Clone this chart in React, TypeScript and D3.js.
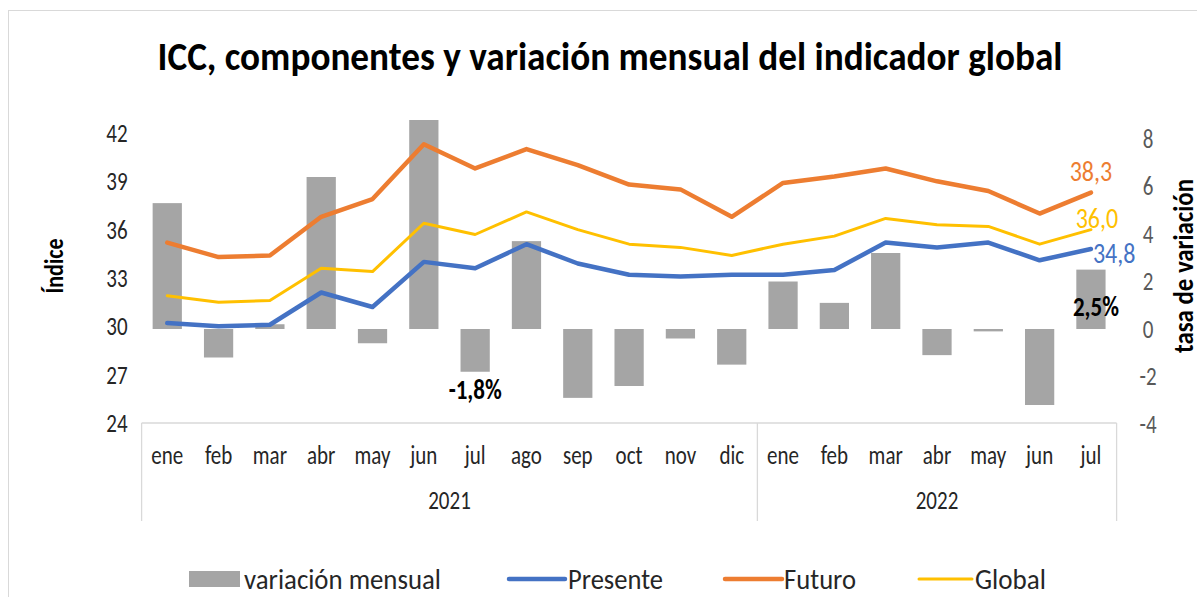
import React, { useEffect, useRef } from "react";
import * as d3 from "d3";

const months = ["ene", "feb", "mar", "abr", "may", "jun", "jul", "ago", "sep", "oct", "nov", "dic", "ene", "feb", "mar", "abr", "may", "jun", "jul"];
const years = [
  { label: "2021", from: 0, to: 11 },
  { label: "2022", from: 12, to: 18 },
];
const variacion = [5.3, -1.2, 0.2, 6.4, -0.6, 8.8, -1.8, 3.7, -2.9, -2.4, -0.4, -1.5, 2.0, 1.1, 3.2, -1.1, -0.1, -3.2, 2.5];
const presente = [30.2, 30.0, 30.1, 32.1, 31.2, 34.0, 33.6, 35.1, 33.9, 33.2, 33.1, 33.2, 33.2, 33.5, 35.2, 34.9, 35.2, 34.1, 34.8];
const futuro = [35.2, 34.3, 34.4, 36.8, 37.9, 41.3, 39.8, 41.0, 40.0, 38.8, 38.5, 36.8, 38.9, 39.3, 39.8, 39.0, 38.4, 37.0, 38.3];
const global = [31.9, 31.5, 31.6, 33.6, 33.4, 36.4, 35.7, 37.1, 36.0, 35.1, 34.9, 34.4, 35.1, 35.6, 36.7, 36.3, 36.2, 35.1, 36.0];
const leftTicks = [24, 27, 30, 33, 36, 39, 42];
const rightTicks = [-4, -2, 0, 2, 4, 6, 8];

const FONT = "Carlito, Calibri, 'Liberation Sans Narrow', 'Open Sans', sans-serif";
const SY = 1.22; // reference text looks vertically stretched

type Sel = d3.Selection<any, unknown, null, undefined>;

function label(g: Sel, x: number, y: number, str: string, size: number, fill: string, opts: { anchor?: string; bold?: boolean; rotate?: number; len?: number } = {}) {
  const t = g.append("text")
    .attr("transform", `translate(${x},${y})${opts.rotate ? ` rotate(${opts.rotate})` : ""} scale(1,${SY})`)
    .attr("dy", "0.35em")
    .attr("text-anchor", opts.anchor || "middle")
    .attr("font-family", FONT)
    .attr("font-size", size)
    .attr("font-weight", opts.bold ? "bold" : "normal")
    .attr("fill", fill)
    .text(str);
  if (opts.len) t.attr("textLength", opts.len).attr("lengthAdjust", "spacingAndGlyphs");
  return t;
}

export default function App() {
  const ref = useRef<SVGSVGElement>(null);

  useEffect(() => {
    const svg = d3.select(ref.current) as unknown as Sel;
    svg.selectAll("*").remove();

    const W = 1197, H = 597;
    const plotLeft = 141.6, plotRight = 1116.6, plotTop = 133, plotBottom = 423;

    svg.append("rect").attr("width", W).attr("height", H).attr("fill", "#fff");
    svg.append("rect")
      .attr("x", 8.5).attr("y", 10.5).attr("width", W).attr("height", H)
      .attr("fill", "none").attr("stroke", "#d9d9d9").attr("stroke-width", 1);

    const idx = months.map((_, i) => i);
    const x = d3.scaleBand<number>()
      .domain(idx)
      .range([plotLeft, plotRight])
      .paddingInner(0.43)
      .paddingOuter(0.215);
    const cx = (i: number) => (x(i) as number) + x.bandwidth() / 2;

    const yL = d3.scaleLinear().domain([24, 42]).range([plotBottom, plotTop]);
    const yR = d3.scaleLinear().domain([-4, 8]).range([424, 139]);

    // title
    label(svg, 610, 56, "ICC, componentes y variación mensual del indicador global", 33, "#000", { bold: true, len: 905 });

    // bars
    svg.append("g").selectAll("rect")
      .data(variacion)
      .enter().append("rect")
      .attr("x", (_, i) => x(i) as number)
      .attr("width", x.bandwidth())
      .attr("y", d => yR(Math.max(0, d)))
      .attr("height", d => Math.max(1, Math.abs(yR(d) - yR(0))))
      .attr("fill", "#a5a5a5");

    // lines
    const line = d3.line<number>()
      .x((_, i) => cx(i))
      .y(d => yL(d));
    const series = [
      { data: futuro, color: "#ed7d31", width: 4.5 },
      { data: global, color: "#ffc000", width: 3 },
      { data: presente, color: "#4472c4", width: 4.5 },
    ];
    series.forEach(s => {
      svg.append("path")
        .attr("d", line(s.data))
        .attr("fill", "none")
        .attr("stroke", s.color)
        .attr("stroke-width", s.width)
        .attr("stroke-linejoin", "round")
        .attr("stroke-linecap", "round");
    });

    // axis labels
    const ax = svg.append("g");
    leftTicks.forEach(d => label(ax, 117, yL(d), String(d), 21, "#262626"));
    rightTicks.forEach(d => label(ax, 1148, yR(d), String(d), 21, "#595959"));

    label(svg, 54, 266, "Índice", 22, "#000", { bold: true, rotate: -90 });
    label(svg, 1183, 266, "tasa de variación", 23, "#000", { bold: true, rotate: -90, len: 174 });

    // category axis
    const axis = svg.append("g").attr("stroke", "#d9d9d9").attr("stroke-width", 1.3);
    axis.append("line")
      .attr("x1", plotLeft).attr("x2", plotRight)
      .attr("y1", plotBottom).attr("y2", plotBottom);
    const sep = [plotLeft, ...years.map(yr => (x(yr.to) as number) - x.step() * 0.215 + x.step())];
    sep.forEach(px => {
      axis.append("line")
        .attr("x1", px).attr("x2", px)
        .attr("y1", plotBottom).attr("y2", 521);
    });

    const cat = svg.append("g");
    months.forEach((m, i) => label(cat, cx(i), 455, m, 21, "#262626"));
    years.forEach(yr => label(cat, (cx(yr.from) + cx(yr.to)) / 2, 500, yr.label, 21, "#262626"));

    // data labels
    const last = months.length - 1;
    const fmt = (v: number) => v.toFixed(1).replace(".", ",");
    label(svg, cx(last), yL(futuro[last]) - 22, fmt(futuro[last]), 24, "#ed7d31");
    label(svg, cx(last) + 6, yL(global[last]) - 12, fmt(global[last]), 24, "#ffc000");
    label(svg, cx(last) + 2, yL(presente[last]) + 4, fmt(presente[last]), 24, "#4472c4", { anchor: "start" });
    label(svg, cx(last) + 5, yR(0) - 23, fmt(variacion[last]) + "%", 23, "#000", { bold: true });
    label(svg, cx(6), yR(variacion[6]) + 17, fmt(variacion[6]) + "%", 23, "#000", { bold: true });

    // legend
    const legendY = 579;
    const lg = svg.append("g");
    lg.append("rect").attr("x", 189).attr("y", legendY - 8).attr("width", 51).attr("height", 16).attr("fill", "#a5a5a5");
    label(lg, 244, legendY, "variación mensual", 24, "#262626", { anchor: "start", len: 197 });
    const legendLines = [
      { x1: 509, x2: 565, tx: 568, color: "#4472c4", width: 4.5, label: "Presente", len: 95 },
      { x1: 725, x2: 782, tx: 784, color: "#ed7d31", width: 4.5, label: "Futuro", len: 72 },
      { x1: 919, x2: 972, tx: 975, color: "#ffc000", width: 3, label: "Global", len: 71 },
    ];
    legendLines.forEach(l => {
      lg.append("line")
        .attr("x1", l.x1).attr("x2", l.x2).attr("y1", legendY).attr("y2", legendY)
        .attr("stroke", l.color).attr("stroke-width", l.width).attr("stroke-linecap", "round");
      label(lg, l.tx, legendY, l.label, 24, "#262626", { anchor: "start", len: l.len });
    });
  }, []);

  return (
    <div style={{ position: "absolute", left: 0, top: 0 }}>
      <svg ref={ref} width={1197} height={597} style={{ display: "block" }} />
    </div>
  );
}
